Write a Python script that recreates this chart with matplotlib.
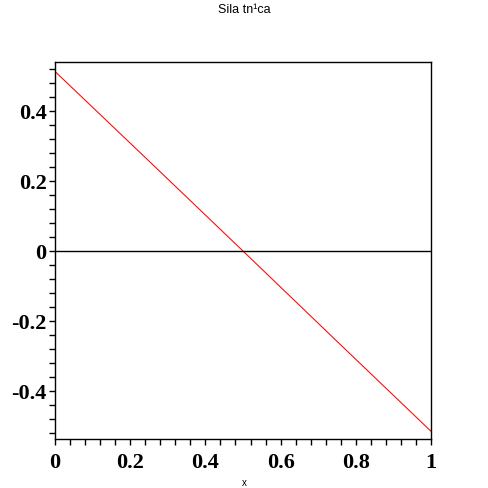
import numpy as np
import matplotlib
matplotlib.use("Agg")
import matplotlib.pyplot as plt
from matplotlib.ticker import FixedLocator, MultipleLocator

# force curve values
xs = [0.0, 0.25, 0.5, 0.75, 1.0]
ys = [0.513, 0.257, 0.0, -0.258, -0.515]

xticks = [0, 0.2, 0.4, 0.6, 0.8, 1]
xticklabels = ["0", "0.2", "0.4", "0.6", "0.8", "1"]
yticks = [-0.4, -0.2, 0, 0.2, 0.4]
yticklabels = ["-0.4", "-0.2", "0", "0.2", "0.4"]

title = "Sila tn\u00b9ca"

fig = plt.figure(figsize=(4.88, 4.88), dpi=100)
ax = fig.add_axes([55 / 488, 1 - 439 / 488, 376 / 488, 377 / 488])

ax.plot(xs, ys, color="red", lw=0.75)
ax.axhline(0, color="black", lw=1)

ax.set_xlim(0, 1)
ax.set_ylim(-0.537, 0.54)

ax.xaxis.set_major_locator(FixedLocator(xticks))
ax.set_xticklabels(xticklabels)
ax.yaxis.set_major_locator(FixedLocator(yticks))
ax.set_yticklabels(yticklabels)
ax.xaxis.set_minor_locator(MultipleLocator(0.04))
ax.yaxis.set_minor_locator(MultipleLocator(0.04))

ax.tick_params(which="both", direction="out", length=4, width=1, color="black")
ax.tick_params(axis="x", which="major", pad=6)
ax.tick_params(axis="y", which="major", pad=2)
for lab in ax.get_xticklabels() + ax.get_yticklabels():
    lab.set_fontfamily("Liberation Serif")
    lab.set_fontweight("bold")
    lab.set_fontsize(16)

for sp in ax.spines.values():
    sp.set_color("black")
    sp.set_linewidth(1)

fig.text(244 / 488, 1 - 10 / 488, title, ha="center", va="center",
         fontsize=9, family="Liberation Sans")
fig.text(244 / 488, 1 - 483 / 488, "x", ha="center", va="center",
         fontsize=7, family="Liberation Sans")

fig.savefig("out.png", dpi=100)
